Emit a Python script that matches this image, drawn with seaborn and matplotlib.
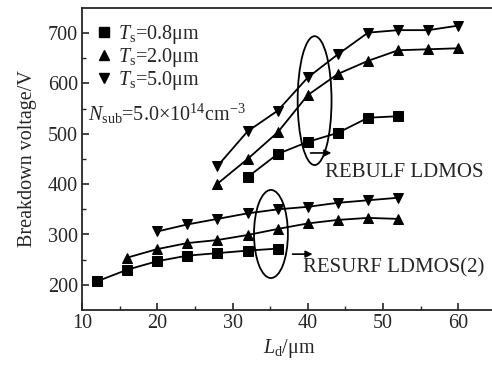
import matplotlib
matplotlib.use("Agg")
import matplotlib.pyplot as plt
from matplotlib.lines import Line2D
from matplotlib.patches import Ellipse
import seaborn as sns
import pandas as pd

# ---- data ----
ld_res_sq = [12, 16, 20, 24, 28, 32, 36]
bv_res_sq = [207, 230, 247, 258, 263, 268, 272]
ld_res_up = [16, 20, 24, 28, 32, 36, 40, 44, 48, 52]
bv_res_up = [254, 271, 283, 289, 299, 311, 322, 329, 333, 331]
ld_res_dn = [20, 24, 28, 32, 36, 40, 44, 48, 52]
bv_res_dn = [306, 320, 331, 342, 350, 355, 363, 368, 373]

ld_reb_sq = [32, 36, 40, 44, 48, 52]
bv_reb_sq = [414, 460, 484, 502, 532, 535]
ld_reb_up = [28, 32, 36, 40, 44, 48, 52, 56, 60]
bv_reb_up = [401, 450, 503, 577, 619, 645, 666, 668, 670]
ld_reb_dn = [28, 32, 36, 40, 44, 48, 52, 56, 60]
bv_reb_dn = [436, 505, 546, 612, 658, 701, 706, 706, 715]

legend_labels = [r"$T_\mathrm{s}$=0.8μm", r"$T_\mathrm{s}$=2.0μm", r"$T_\mathrm{s}$=5.0μm"]
markers = ["s", "^", "v"]

sns.set_style("ticks")
plt.rcParams["font.family"] = ["Liberation Serif", "DejaVu Serif"]
plt.rcParams["mathtext.fontset"] = "custom"
plt.rcParams["mathtext.rm"] = "Liberation Serif"
plt.rcParams["mathtext.it"] = "Liberation Serif:italic"

FS = 14.5

fig = plt.figure(figsize=(4.92, 3.66), dpi=100)
ax = fig.add_axes([82 / 492, 1 - 310 / 366, 414 / 492, 302 / 366])

series = [
    (ld_res_sq, bv_res_sq, "s"), (ld_res_up, bv_res_up, "^"), (ld_res_dn, bv_res_dn, "v"),
    (ld_reb_sq, bv_reb_sq, "s"), (ld_reb_up, bv_reb_up, "^"), (ld_reb_dn, bv_reb_dn, "v"),
]
for xs, ys, m in series:
    df = pd.DataFrame({"x": xs, "y": ys})
    sns.lineplot(data=df, x="x", y="y", marker=m, color="black", lw=1.3,
                 markersize=7, markeredgecolor="black", ax=ax, legend=False)

ax.set_xlim(10, 65)
ax.set_ylim(150, 750)
ax.set_xticks([10, 20, 30, 40, 50, 60])
ax.set_yticks([200, 300, 400, 500, 600, 700])
ax.set_xticks([15, 25, 35, 45, 55], minor=True)
ax.set_yticks([250, 350, 450, 550, 650], minor=True)
ax.tick_params(direction="in", which="major", length=5, width=1.2, labelsize=FS, pad=3)
ax.tick_params(direction="in", which="minor", length=3, width=1.0)
for s in ["left", "bottom", "top"]:
    ax.spines[s].set_linewidth(1.3)
ax.spines["right"].set_visible(False)

ax.set_xlabel(r"$L_\mathrm{d}$/μm", fontsize=FS, labelpad=3)
ax.set_ylabel("Breakdown voltage/V", fontsize=FS, labelpad=8)

handles = [Line2D([], [], marker=m, color="black", linestyle="none", markersize=7) for m in markers]
ax.legend(handles, legend_labels, loc="upper left", frameon=False, fontsize=FS,
          handlelength=0.7, handletextpad=0.35, labelspacing=0.0,
          borderaxespad=0.45, borderpad=0.3)

ax.text(0.015, 0.65, r"$N_\mathrm{sub}$=5.0×10$^{14}$cm$^{-3}$", transform=ax.transAxes,
        fontsize=FS, va="center", ha="left")

ax.add_patch(Ellipse((40.9, 566), 4.5, 256, fill=False, lw=1.3, color="black"))
ax.add_patch(Ellipse((35.1, 301), 4.5, 175, fill=False, lw=1.3, color="black"))
ax.annotate("", xy=(43.5, 462), xytext=(40.0, 462),
            arrowprops=dict(arrowstyle="-|>", color="black", lw=1.2, mutation_scale=10))
ax.annotate("", xy=(41.0, 261), xytext=(37.6, 261),
            arrowprops=dict(arrowstyle="-|>", color="black", lw=1.2, mutation_scale=10))
ax.text(42.3, 424, "REBULF LDMOS", fontsize=15, va="center", ha="left")
ax.text(39.4, 233, "RESURF LDMOS(2)", fontsize=15, va="center", ha="left")

fig.savefig("out.png", dpi=100)
